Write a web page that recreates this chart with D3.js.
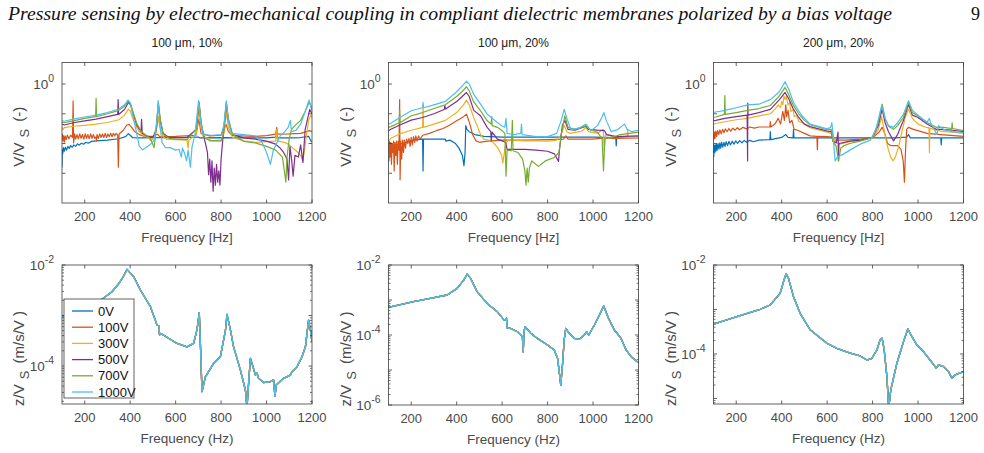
<!DOCTYPE html>
<html>
<head>
<meta charset="utf-8">
<script src="https://cdn.jsdelivr.net/npm/d3@7"></script>
<style>
body { margin: 0; background: #fff; }
text { font-family: "Liberation Sans", Arial, sans-serif; }
</style>
</head>
<body>
<div id="chart-area"></div>
<script>
// ---- data ----
var voltages = ["0V", "100V", "300V", "500V", "700V", "1000V"];
var freqTicks = [200, 400, 600, 800, 1000, 1200];
var panelTitles = ["100 \u03bcm, 10%", "100 \u03bcm, 20%", "200 \u03bcm, 20%"];

// top row: V/V_S, [frequency Hz, ratio]
var tl_0V = [[100,0.0016],[101,0.0064],[103,0.0045],[106,0.0073],[110,0.0055],[115,0.0075],[120,0.006],[126,0.008],[132,0.0068],[138,0.0085],[145,0.0075],[152,0.009],[160,0.008],[168,0.0098],[176,0.0088],[185,0.0102],[195,0.0095],[205,0.011],[215,0.0102],[230,0.0118],[250,0.0123],[300,0.013],[350,0.0145],[380,0.017],[392,0.0215],[400,0.019],[410,0.0159],[450,0.0155],[500,0.0159],[600,0.0159],[700,0.0165],[705,0.0155],[800,0.0159],[900,0.0155],[1000,0.0155],[1040,0.0165],[1045,0.02],[1050,0.0155],[1100,0.0155],[1150,0.0159],[1185,0.0175],[1195,0.0123],[1200,0.0115]];
var tl_100V = [[100,0.014],[102,0.0206],[104,0.0123],[107,0.0181],[110,0.011],[114,0.0181],[118,0.0135],[124,0.019],[130,0.0145],[138,0.019],[146,0.016],[149,0.274],[151,0.0105],[155,0.021],[160,0.014],[166,0.02],[172,0.0145],[178,0.021],[184,0.015],[190,0.02],[196,0.014],[202,0.021],[208,0.015],[214,0.02],[220,0.0145],[226,0.021],[232,0.015],[238,0.02],[244,0.015],[250,0.0165],[252,0.0123],[254,0.02],[260,0.015],[266,0.021],[272,0.016],[278,0.021],[284,0.016],[290,0.022],[296,0.016],[302,0.021],[308,0.017],[314,0.022],[320,0.017],[326,0.022],[332,0.018],[338,0.022],[345,0.019],[348,0.0016],[351,0.021],[370,0.028],[385,0.042],[395,0.044],[405,0.036],[420,0.025],[440,0.02],[460,0.0175],[500,0.0175],[520,0.0206],[530,0.017],[600,0.0175],[690,0.019],[702,0.066],[712,0.022],[750,0.0181],[800,0.019],[822,0.044],[832,0.025],[850,0.0185],[950,0.0175],[1000,0.0185],[1040,0.0206],[1045,0.035],[1048,0.0206],[1100,0.021],[1150,0.022],[1190,0.027],[1200,0.025]];
var tl_300V = [[100,0.035],[105,0.03],[110,0.034],[150,0.038],[200,0.041],[250,0.045],[300,0.051],[350,0.063],[375,0.09],[392,0.144],[400,0.126],[410,0.075],[425,0.04],[440,0.025],[460,0.018],[480,0.0159],[490,0.0123],[500,0.0145],[515,0.025],[524,0.08],[530,0.035],[545,0.017],[560,0.014],[600,0.0135],[650,0.013],[655,0.007],[658,0.013],[690,0.02],[703,0.144],[710,0.04],[720,0.018],[760,0.0123],[800,0.0118],[815,0.025],[823,0.126],[832,0.035],[850,0.016],[900,0.0123],[950,0.011],[1000,0.0115],[1040,0.012],[1045,0.03],[1048,0.012],[1080,0.011],[1100,0.009],[1130,0.0057],[1150,0.004],[1160,0.0026],[1170,0.009],[1185,0.06],[1195,0.09],[1200,0.075]];
var tl_500V = [[100,0.045],[110,0.042],[150,0.05],[200,0.058],[250,0.066],[300,0.08],[345,0.095],[347,0.3],[349,0.095],[375,0.14],[392,0.24],[402,0.2],[415,0.09],[430,0.04],[448,0.025],[450,0.065],[453,0.022],[470,0.0181],[500,0.0159],[515,0.03],[524,0.22],[532,0.06],[545,0.022],[570,0.016],[600,0.0159],[650,0.0159],[690,0.03],[703,0.24],[712,0.05],[725,0.016],[740,0.005],[745,0.0009],[750,0.003],[755,0.0005],[760,0.0026],[765,0.00025],[770,0.0015],[775,0.0004],[780,0.002],[785,0.0005],[790,0.0012],[795,0.0004],[800,0.003],[808,0.015],[823,0.22],[832,0.06],[850,0.02],[900,0.0155],[950,0.014],[1000,0.012],[1040,0.0095],[1060,0.007],[1075,0.005],[1090,0.003],[1097,0.0006],[1103,0.008],[1110,0.003],[1117,0.0008],[1125,0.004],[1140,0.0035],[1150,0.009],[1160,0.0023],[1170,0.03],[1190,0.14],[1200,0.1]];
var tl_700V = [[100,0.052],[110,0.05],[150,0.058],[200,0.07],[248,0.08],[250,0.33],[252,0.08],[300,0.1],[350,0.13],[375,0.18],[392,0.26],[402,0.21],[415,0.1],[430,0.045],[450,0.025],[470,0.019],[490,0.0145],[505,0.0073],[512,0.02],[524,0.24],[532,0.07],[545,0.02],[575,0.0145],[600,0.014],[650,0.0135],[690,0.03],[703,0.25],[712,0.05],[725,0.016],[750,0.0123],[800,0.013],[810,0.02],[823,0.24],[832,0.07],[850,0.02],[900,0.0118],[950,0.0105],[1000,0.008],[1040,0.006],[1070,0.0035],[1085,0.0005],[1090,0.0035],[1100,0.015],[1110,0.03],[1125,0.04],[1150,0.06],[1170,0.12],[1188,0.25],[1200,0.14]];
var tl_1000V = [[100,0.058],[110,0.056],[150,0.066],[200,0.078],[250,0.09],[300,0.11],[350,0.145],[375,0.2],[390,0.29],[400,0.24],[410,0.1],[425,0.03],[440,0.008],[455,0.0062],[470,0.0073],[490,0.0095],[505,0.013],[518,0.06],[523,0.28],[530,0.05],[540,0.011],[555,0.0073],[575,0.0073],[600,0.006],[615,0.0064],[625,0.0035],[630,0.007],[640,0.0045],[648,0.0026],[655,0.006],[665,0.0016],[672,0.0075],[685,0.02],[701,0.28],[710,0.05],[722,0.02],[760,0.019],[800,0.02],[812,0.04],[823,0.27],[832,0.06],[845,0.022],[900,0.02],[950,0.018],[980,0.011],[1000,0.005],[1017,0.002],[1030,0.006],[1060,0.018],[1080,0.025],[1095,0.035],[1105,0.06],[1110,0.025],[1130,0.028],[1150,0.045],[1170,0.12],[1187,0.29],[1200,0.13]];

var tm_0V = [[100,0.0083],[110,0.0095],[130,0.009],[150,0.0095],[180,0.011],[210,0.013],[250,0.014],[252,0.0012],[254,0.014],[300,0.014],[350,0.014],[352,0.012],[370,0.013],[395,0.01],[410,0.007],[425,0.004],[432,0.0018],[437,0.005],[440,0.04],[445,0.03],[455,0.025],[480,0.02],[520,0.0175],[600,0.0165],[700,0.0165],[800,0.0165],[900,0.0165],[1000,0.0165],[1100,0.0159],[1102,0.0083],[1104,0.0159],[1200,0.0165]];
var tm_100V = [[100,0.009],[102,0.0026],[104,0.012],[107,0.0035],[110,0.011],[113,0.002],[116,0.01],[119,0.005],[122,0.012],[125,0.0012],[128,0.011],[132,0.004],[135,0.012],[139,0.002],[142,0.012],[146,0.006],[149,0.3],[151,0.0006],[154,0.012],[158,0.003],[162,0.013],[166,0.005],[170,0.013],[175,0.007],[180,0.014],[185,0.01],[190,0.015],[195,0.008],[200,0.016],[205,0.009],[210,0.017],[215,0.011],[220,0.018],[226,0.012],[232,0.018],[240,0.014],[250,0.019],[280,0.022],[310,0.027],[340,0.032],[370,0.042],[400,0.058],[430,0.08],[443,0.097],[450,0.07],[460,0.04],[470,0.02],[485,0.0123],[500,0.011],[520,0.0115],[550,0.0123],[600,0.013],[700,0.013],[800,0.0135],[870,0.014],[880,0.018],[890,0.014],[1000,0.014],[1050,0.0155],[1100,0.015],[1200,0.0155]];
var tm_300V = [[100,0.0123],[110,0.015],[150,0.021],[200,0.028],[250,0.035],[252,0.2],[254,0.035],[300,0.045],[350,0.06],[400,0.11],[430,0.2],[443,0.29],[455,0.2],[475,0.075],[490,0.04],[505,0.02],[520,0.014],[540,0.013],[560,0.011],[580,0.0073],[598,0.004],[603,0.0022],[608,0.004],[613,0.008],[625,0.013],[650,0.013],[700,0.0123],[750,0.0123],[800,0.012],[840,0.013],[860,0.02],[873,0.04],[885,0.025],[900,0.022],[950,0.026],[969,0.035],[980,0.025],[1020,0.022],[1045,0.03],[1049,0.006],[1055,0.02],[1100,0.017],[1150,0.016],[1152,0.03],[1155,0.016],[1200,0.016]];
var tm_500V = [[100,0.027],[110,0.03],[150,0.042],[200,0.061],[250,0.075],[300,0.1],[345,0.14],[348,0.19],[351,0.144],[400,0.26],[430,0.42],[443,0.52],[455,0.38],[475,0.13],[505,0.086],[534,0.035],[550,0.025],[552,0.0123],[556,0.024],[579,0.014],[600,0.0123],[615,0.011],[622,0.0064],[660,0.0064],[700,0.0064],[750,0.006],[800,0.0055],[830,0.0045],[848,0.0025],[852,0.006],[865,0.04],[876,0.06],[890,0.03],[920,0.028],[969,0.038],[980,0.03],[1020,0.028],[1050,0.027],[1060,0.02],[1100,0.017],[1200,0.0181]];
var tm_700V = [[100,0.035],[110,0.037],[147,0.05],[149,0.13],[151,0.05],[200,0.086],[250,0.11],[300,0.15],[350,0.2],[400,0.38],[430,0.62],[443,0.81],[455,0.6],[475,0.25],[505,0.126],[534,0.058],[552,0.045],[554,0.08],[556,0.04],[579,0.035],[600,0.027],[612,0.022],[617,0.0008],[622,0.006],[640,0.0057],[645,0.06],[648,0.0057],[670,0.005],[690,0.003],[700,0.0012],[705,0.0004],[710,0.0015],[715,0.0005],[720,0.0015],[730,0.0026],[760,0.0017],[790,0.0026],[830,0.0034],[850,0.005],[860,0.02],[876,0.085],[890,0.035],[920,0.03],[969,0.04],[985,0.03],[1020,0.024],[1040,0.014],[1046,0.0012],[1052,0.015],[1080,0.016],[1120,0.02],[1160,0.022],[1200,0.024]];
var tm_1000V = [[100,0.045],[110,0.048],[150,0.075],[200,0.126],[250,0.16],[252,0.24],[254,0.16],[300,0.2],[350,0.26],[400,0.55],[430,0.95],[443,1.25],[455,1.0],[475,0.45],[505,0.21],[534,0.097],[579,0.051],[600,0.039],[612,0.035],[617,0.07],[622,0.022],[650,0.02],[682,0.022],[685,0.045],[688,0.02],[750,0.017],[800,0.017],[840,0.022],[860,0.06],[873,0.14],[885,0.07],[902,0.03],[940,0.033],[969,0.045],[990,0.027],[1020,0.04],[1040,0.08],[1048,0.11],[1058,0.06],[1080,0.025],[1110,0.03],[1138,0.045],[1150,0.03],[1170,0.025],[1200,0.028]];

var tr_0V = [[100,0.0095],[101,0.0036],[103,0.0083],[105,0.005],[107,0.009],[110,0.0055],[113,0.0095],[116,0.006],[120,0.01],[124,0.0065],[128,0.0105],[132,0.007],[136,0.011],[141,0.0075],[146,0.011],[151,0.008],[156,0.0115],[162,0.0085],[168,0.0118],[175,0.009],[182,0.012],[190,0.0095],[198,0.0123],[206,0.01],[215,0.0125],[225,0.0105],[235,0.0128],[245,0.011],[260,0.0128],[275,0.0115],[300,0.013],[348,0.0135],[350,0.025],[352,0.0135],[400,0.016],[418,0.02],[428,0.016],[450,0.0155],[452,0.03],[454,0.0155],[500,0.0155],[600,0.0155],[700,0.0155],[800,0.0155],[900,0.0155],[950,0.0165],[958,0.02],[966,0.0155],[1050,0.0155],[1100,0.0155],[1102,0.009],[1104,0.0155],[1200,0.0155]];
var tr_100V = [[100,0.02],[102,0.014],[104,0.024],[107,0.015],[110,0.026],[114,0.017],[118,0.027],[123,0.02],[128,0.029],[134,0.021],[140,0.03],[146,0.023],[152,0.031],[160,0.025],[168,0.032],[176,0.026],[185,0.033],[195,0.028],[205,0.034],[215,0.029],[230,0.035],[245,0.031],[260,0.036],[280,0.033],[300,0.036],[348,0.036],[350,0.055],[352,0.036],[370,0.045],[385,0.07],[395,0.045],[405,0.12],[412,0.06],[418,0.2],[422,0.08],[428,0.13],[435,0.05],[445,0.06],[455,0.03],[470,0.028],[500,0.022],[525,0.0181],[555,0.0175],[557,0.0062],[559,0.0175],[600,0.017],[620,0.0165],[635,0.013],[680,0.013],[750,0.014],[800,0.0155],[830,0.025],[842,0.035],[855,0.02],[866,0.01],[880,0.0085],[910,0.0085],[925,0.0064],[935,0.0025],[940,0.0005],[945,0.006],[950,0.03],[958,0.035],[980,0.03],[1040,0.022],[1100,0.02],[1200,0.0175]];
var tr_300V = [[100,0.045],[110,0.047],[150,0.054],[200,0.063],[250,0.07],[300,0.085],[350,0.1],[370,0.14],[385,0.2],[395,0.16],[400,0.26],[405,0.2],[410,0.4],[415,0.3],[420,0.38],[428,0.2],[435,0.24],[440,0.12],[450,0.14],[455,0.08],[465,0.09],[475,0.055],[490,0.05],[525,0.034],[600,0.024],[618,0.022],[622,0.03],[630,0.014],[640,0.011],[655,0.0095],[700,0.0115],[750,0.013],[800,0.0155],[825,0.03],[840,0.08],[850,0.03],[860,0.0123],[870,0.006],[880,0.0035],[890,0.0026],[900,0.0035],[915,0.008],[930,0.027],[945,0.08],[958,0.144],[975,0.07],[1000,0.045],[1040,0.034],[1048,0.034],[1050,0.005],[1052,0.033],[1100,0.026],[1150,0.024],[1200,0.022]];
var tr_500V = [[100,0.058],[110,0.06],[150,0.07],[200,0.08],[248,0.09],[250,0.0026],[251,0.23],[252,0.09],[300,0.11],[350,0.14],[390,0.3],[415,0.52],[430,0.33],[450,0.15],[475,0.075],[500,0.045],[525,0.037],[600,0.026],[618,0.025],[625,0.012],[640,0.0105],[648,0.024],[650,0.0026],[652,0.01],[700,0.012],[750,0.013],[800,0.016],[825,0.04],[842,0.144],[855,0.05],[870,0.025],[892,0.0123],[910,0.02],[935,0.058],[958,0.21],[975,0.09],[1000,0.075],[1040,0.045],[1080,0.03],[1100,0.03],[1150,0.028],[1200,0.025]];
var tr_700V = [[100,0.075],[110,0.078],[148,0.095],[150,0.41],[152,0.095],[200,0.11],[250,0.13],[300,0.15],[350,0.19],[390,0.4],[415,0.77],[430,0.45],[450,0.2],[475,0.1],[500,0.06],[525,0.043],[600,0.029],[618,0.03],[625,0.012],[640,0.008],[650,0.0026],[660,0.007],[672,0.0083],[700,0.01],[745,0.012],[800,0.016],[825,0.05],[842,0.21],[855,0.07],[870,0.038],[892,0.03],[910,0.04],[935,0.075],[958,0.24],[975,0.11],[1000,0.085],[1040,0.051],[1080,0.035],[1112,0.035],[1148,0.032],[1150,0.05],[1152,0.032],[1200,0.027]];
var tr_1000V = [[100,0.111],[110,0.115],[150,0.13],[200,0.16],[250,0.2],[300,0.21],[350,0.3],[390,0.55],[415,1.2],[430,0.7],[452,0.24],[489,0.086],[525,0.045],[600,0.031],[615,0.035],[621,0.05],[627,0.015],[635,0.0026],[645,0.0035],[672,0.0044],[700,0.006],[745,0.0095],[790,0.013],[815,0.03],[840,0.186],[855,0.07],[870,0.04],[892,0.035],[910,0.05],[936,0.0975],[958,0.274],[975,0.13],[995,0.0975],[1039,0.051],[1050,0.07],[1055,0.05],[1083,0.02],[1090,0.04],[1112,0.03],[1150,0.025],[1200,0.0235]];

// bottom row: z/V_S (m/s/V), same curve for every bias voltage
var bl_resp = [[100,9.5e-4],[150,1.2e-3],[200,1.5e-3],[270,2.0e-3],[320,2.95e-3],[350,4.3e-3],[370,5.9e-3],[386,8.2e-3],[400,7.0e-3],[415,5.9e-3],[445,3.2e-3],[489,1.5e-3],[518,6.5e-4],[527,6.2e-4],[529,4.1e-4],[535,4.4e-4],[562,3.7e-4],[606,2.8e-4],[650,2.4e-4],[679,2.8e-4],[694,5.2e-4],[704,1.14e-3],[710,2e-4],[716,3.1e-5],[731,6.1e-5],[767,1.13e-4],[797,1.53e-4],[819,5.0e-4],[826,1.05e-3],[841,5.2e-4],[855,2.4e-4],[885,8.3e-5],[907,3.35e-5],[914,1.5e-5],[921,4.5e-5],[929,1.42e-4],[936,1.13e-4],[951,6.6e-5],[958,7.2e-5],[965,5.7e-5],[987,4.7e-5],[1017,4.9e-5],[1031,5.3e-5],[1037,2.5e-5],[1043,4.2e-5],[1075,5.7e-5],[1105,6.6e-5],[1112,7.7e-5],[1134,9.7e-5],[1156,1.53e-4],[1171,2.4e-4],[1185,8.1e-4],[1193,5.2e-4],[1200,3.0e-4]];
var bm_resp = [[100,6.2e-4],[210,9.0e-4],[284,1.12e-3],[358,1.39e-3],[402,2.15e-3],[431,3.7e-3],[446,5.5e-3],[461,4.2e-3],[490,1.73e-3],[534,8.0e-4],[579,4.6e-4],[608,2.7e-4],[615,2.7e-4],[619,3.0e-4],[622,1.6e-4],[637,1.55e-4],[667,1.24e-4],[689,9.0e-5],[693,3.3e-5],[696,1.24e-4],[701,1.73e-4],[726,1.12e-4],[755,8.0e-5],[800,5.2e-5],[829,3.7e-5],[844,2.15e-5],[852,8.0e-6],[858,3.7e-6],[866,1.55e-5],[873,7.2e-5],[880,1.55e-4],[895,1.12e-4],[917,8.0e-5],[939,7.5e-5],[961,1.0e-4],[972,1.24e-4],[981,1.0e-4],[1006,1.93e-4],[1028,3.7e-4],[1047,6.7e-4],[1065,3.3e-4],[1094,1.39e-4],[1123,8.0e-5],[1146,3.7e-5],[1168,2.4e-5],[1200,1.6e-5]];
var br_resp = [[100,4.7e-4],[203,6.9e-4],[305,1.01e-3],[349,1.26e-3],[393,2.3e-3],[415,5.5e-3],[420,6.3e-3],[430,5.0e-3],[452,1.94e-3],[481,8.2e-4],[525,3.5e-4],[599,1.74e-4],[643,1.34e-4],[701,1.04e-4],[745,9.0e-5],[775,7.3e-5],[797,8.0e-5],[819,1.23e-4],[833,2.07e-4],[842,2.25e-4],[851,1.23e-4],[863,3.1e-5],[871,6.0e-6],[880,1.55e-5],[907,6.2e-5],[936,1.89e-4],[955,3.65e-4],[973,2.45e-4],[995,1.59e-4],[1024,1.13e-4],[1053,7.3e-5],[1080,4.8e-5],[1090,5.7e-5],[1112,5.2e-5],[1134,4.0e-5],[1149,2.84e-5],[1163,3.4e-5],[1200,4.0e-5]];

// ---- layout ----
var colors = ["#0072BD", "#D95319", "#EDB120", "#7E2F8E", "#77AC30", "#4DBEEE"];
var axisColor = "#3c3c3c", textColor = "#4a4a4a";
var panelWidth = 250;
var lefts = [62, 388.5, 713.5];

var svg = d3.select("#chart-area").append("svg")
    .attr("width", 984)
    .attr("height", 453);

svg.append("text")
    .attr("x", 8).attr("y", 20)
    .attr("textLength", 884).attr("lengthAdjust", "spacingAndGlyphs")
    .style("font-family", "'Liberation Serif', 'Times New Roman', serif")
    .style("font-style", "italic").style("font-size", "18px").attr("fill", "#111")
    .text("Pressure sensing by electro-mechanical coupling in compliant dielectric membranes polarized by a bias voltage");
svg.append("text")
    .attr("x", 971).attr("y", 20)
    .style("font-family", "'Liberation Serif', 'Times New Roman', serif")
    .style("font-size", "18px").attr("fill", "#111")
    .text("9");

var panels = [
    {col: 0, top: 62.5, bottom: 203, domain: [1e-4, 5.3], series: [tl_0V, tl_100V, tl_300V, tl_500V, tl_700V, tl_1000V], row: "top"},
    {col: 1, top: 62.5, bottom: 203, domain: [1e-4, 5.3], series: [tm_0V, tm_100V, tm_300V, tm_500V, tm_700V, tm_1000V], row: "top"},
    {col: 2, top: 62.5, bottom: 203, domain: [1e-4, 5.3], series: [tr_0V, tr_100V, tr_300V, tr_500V, tr_700V, tr_1000V], row: "top"},
    {col: 0, top: 265, bottom: 404, domain: [1.77e-5, 1e-2], series: voltages.map(() => bl_resp), row: "bottom", legend: true},
    {col: 1, top: 265, bottom: 405, domain: [1e-6, 1e-2], series: voltages.map(() => bm_resp), row: "bottom"},
    {col: 2, top: 265, bottom: 404, domain: [7.5e-6, 1e-2], series: voltages.map(() => br_resp), row: "bottom"}
];

panels.forEach(function(p, i) {
    var left = lefts[p.col], right = left + panelWidth;
    var x = d3.scaleLinear().domain([100, 1200]).range([left, right]);
    var y = d3.scaleLog().domain(p.domain).range([p.bottom, p.top]);
    var g = svg.append("g");

    g.append("clipPath").attr("id", "clip" + i)
        .append("rect").attr("x", left).attr("y", p.top)
        .attr("width", panelWidth).attr("height", p.bottom - p.top);

    var line = d3.line().x((d) => x(d[0])).y((d) => y(d[1]));
    var lines = g.append("g").attr("clip-path", "url(#clip" + i + ")");
    p.series.forEach(function(s, k) {
        lines.append("path").datum(s)
            .attr("d", line)
            .attr("fill", "none")
            .attr("stroke", colors[k])
            .attr("stroke-width", p.row == "top" ? 1.2 : 1.3)
            .attr("stroke-linejoin", "round");
    });

    // box
    g.append("rect").attr("x", left).attr("y", p.top)
        .attr("width", panelWidth).attr("height", p.bottom - p.top)
        .attr("fill", "none").attr("stroke", axisColor).attr("stroke-width", 0.8);

    // x ticks
    freqTicks.forEach(function(t) {
        var xp = x(t);
        g.append("line").attr("x1", xp).attr("x2", xp).attr("y1", p.bottom).attr("y2", p.bottom - 3.5)
            .attr("stroke", axisColor).attr("stroke-width", 0.8);
        g.append("line").attr("x1", xp).attr("x2", xp).attr("y1", p.top).attr("y2", p.top + 3.5)
            .attr("stroke", axisColor).attr("stroke-width", 0.8);
        g.append("text").attr("x", xp).attr("y", p.bottom + 18)
            .attr("text-anchor", "middle").style("font-size", "13px").attr("fill", textColor)
            .text(t);
    });

    // y ticks (log decades, labels on 10^0 / even decades)
    var lo = Math.ceil(Math.log10(p.domain[0]) - 1e-9), hi = Math.floor(Math.log10(p.domain[1]) + 1e-9);
    var topMajors = [0, -1, -2, -3];
    for (var e = lo; e <= hi; e++) {
        if (p.row == "top" && topMajors.indexOf(e) < 0) continue;
        var yp = y(Math.pow(10, e));
        [[left, left + 3.5], [right, right - 3.5]].forEach(function(xx) {
            g.append("line").attr("x1", xx[0]).attr("x2", xx[1]).attr("y1", yp).attr("y2", yp)
                .attr("stroke", axisColor).attr("stroke-width", 0.8);
        });
        var showLabel = p.row == "top" ? e == 0 : e % 2 == 0;
        if (showLabel) {
            var lab = g.append("text").attr("x", left - 8).attr("y", yp + 5)
                .attr("text-anchor", "end").style("font-size", "13.5px").attr("fill", textColor);
            lab.append("tspan").text("10");
            lab.append("tspan").attr("dy", -7).style("font-size", "10.5px").text(e == 0 ? "0" : "-" + (-e));
        }
    }
    if (p.row == "bottom") {
        for (var e2 = lo - 1; e2 <= hi; e2++) {
            for (var m = 2; m <= 9; m++) {
                var v = m * Math.pow(10, e2);
                if (v <= p.domain[0] || v >= p.domain[1]) continue;
                var ym = y(v);
                [[left, left + 2], [right, right - 2]].forEach(function(xx) {
                    g.append("line").attr("x1", xx[0]).attr("x2", xx[1]).attr("y1", ym).attr("y2", ym)
                        .attr("stroke", axisColor).attr("stroke-width", 0.7);
                });
            }
        }
    }

    // axis titles
    var cx = (left + right) / 2;
    g.append("text").attr("x", cx).attr("y", p.bottom + 39)
        .attr("text-anchor", "middle").style("font-size", "13.5px").attr("fill", textColor)
        .text(p.row == "top" ? "Frequency [Hz]" : "Frequency (Hz)");

    var cy = (p.top + p.bottom) / 2 + (p.row == "top" ? 4 : 24);
    var yl = g.append("text")
        .attr("transform", "translate(" + (left - 38) + "," + cy + ") rotate(-90)")
        .attr("text-anchor", "middle").style("font-size", "15px").attr("fill", textColor);
    yl.append("tspan").text(p.row == "top" ? "V/V" : "z/V");
    yl.append("tspan").attr("dy", 5).attr("dx", 5).style("font-size", "13px").text("S");
    yl.append("tspan").attr("dy", -5).attr("dx", 3).text(p.row == "top" ? " (-)" : " (m/s/V )");

    if (p.row == "top") {
        g.append("text").attr("x", cx).attr("y", 47)
            .attr("text-anchor", "middle").style("font-size", "12px").attr("fill", "#222")
            .text(panelTitles[p.col]);
    }

    if (p.legend) {
        var lg = g.append("g");
        lg.append("rect").attr("x", left + 2).attr("y", 299).attr("width", 70).attr("height", 99)
            .attr("fill", "#fff").attr("stroke", axisColor).attr("stroke-width", 0.8);
        voltages.forEach(function(vname, k) {
            var ly = 311 + k * 16.2;
            lg.append("line").attr("x1", left + 10).attr("x2", left + 31).attr("y1", ly).attr("y2", ly)
                .attr("stroke", colors[k]).attr("stroke-width", 1.3);
            lg.append("text").attr("x", left + 36).attr("y", ly + 4.5)
                .style("font-size", "13px").attr("fill", "#111").text(vname);
        });
    }
});
</script>
</body>
</html>
